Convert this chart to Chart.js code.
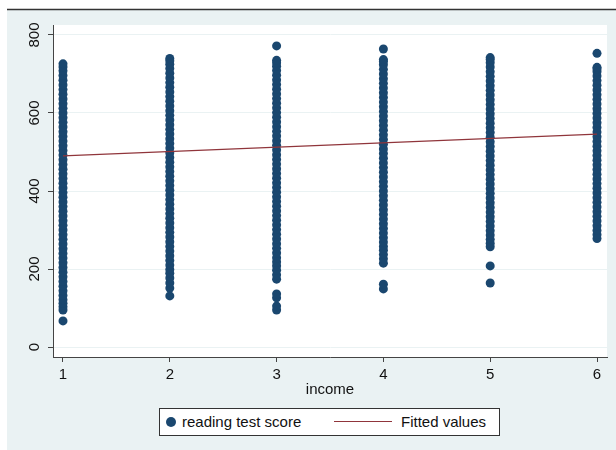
<!DOCTYPE html>
<html>
<head>
	<meta charset="utf-8">
	<title>reading test score vs income</title>
	<script src="https://cdn.jsdelivr.net/npm/chart.js@4.4.0/dist/chart.umd.min.js"></script>
	<style>
		body { margin: 0; background: #fff; }
		#wrap { position: relative; width: 616px; height: 450px; }
		#legend {
			position: absolute; left: 159px; top: 408px; width: 339px; height: 26px;
			border: 1px solid #333; background: #fff;
			font: 15px "Liberation Sans", Arial, sans-serif; color: #111;
		}
		#legend span { position: absolute; }
		.dot { left: 6px; top: 8px; width: 10px; height: 10px; border-radius: 50%; background: #1a476f; }
		.ln { left: 174px; top: 12px; width: 58px; height: 0; border-top: 1.5px solid #90353b; }
		.txt { top: 4px; line-height: 18px; }
	</style>
</head>
<body>
<div id="wrap">
	<canvas id="graph" width="616" height="450"></canvas>
	<div id="legend">
		<span class="dot"></span><span class="txt" style="left:22px">reading test score</span>
		<span class="ln"></span><span class="txt" style="left:241px">Fitted values</span>
	</div>
</div>
<script>
	// income categories and the scores
	const incomeLevels = [1, 2, 3, 4, 5, 6];
	const scores1 = [67, 95, 103, 112, 121, 132, 144, 156, 168, 180, 192, 204, 216, 228, 240, 252, 264, 276, 288, 300, 312, 324, 336, 348, 360, 372, 384, 396, 408, 420, 432, 444, 456, 468, 480, 492, 504, 516, 528, 540, 552, 564, 576, 588, 600, 612, 624, 636, 648, 660, 672, 684, 696, 708, 718, 726];
	const scores2 = [131, 151, 164, 177, 189, 199, 210, 222, 234, 246, 258, 270, 282, 294, 306, 318, 330, 342, 354, 366, 378, 390, 402, 414, 426, 438, 450, 462, 474, 486, 498, 510, 522, 534, 546, 558, 570, 582, 594, 606, 618, 630, 642, 654, 666, 678, 690, 702, 714, 725, 734, 740];
	const scores3 = [95, 105, 126, 136, 174, 185, 197, 208, 218, 229, 241, 253, 265, 277, 289, 301, 313, 325, 337, 349, 361, 373, 385, 397, 409, 421, 433, 445, 457, 469, 481, 493, 505, 517, 529, 541, 553, 565, 577, 589, 601, 613, 625, 637, 649, 661, 673, 685, 697, 709, 720, 729, 735, 772];
	const scores4 = [149, 161, 215, 226, 237, 248, 258, 269, 280, 292, 304, 316, 328, 340, 352, 364, 376, 388, 400, 412, 424, 436, 448, 460, 472, 484, 496, 508, 520, 532, 544, 556, 568, 580, 592, 604, 616, 628, 640, 652, 664, 676, 688, 700, 712, 724, 732, 737, 764];
	const scores5 = [164, 208, 257, 266, 276, 287, 298, 310, 322, 334, 346, 358, 370, 382, 394, 406, 418, 430, 442, 454, 466, 478, 490, 502, 514, 526, 538, 550, 562, 574, 586, 598, 610, 622, 634, 646, 658, 670, 682, 694, 706, 718, 729, 737, 742];
	const scores6 = [278, 288, 299, 311, 323, 335, 347, 359, 371, 383, 395, 407, 419, 431, 443, 455, 467, 479, 491, 503, 515, 527, 539, 551, 563, 575, 587, 599, 611, 623, 635, 647, 659, 671, 683, 695, 706, 713, 717, 753];

	const fitX = [1, 6];
	const fitY = [490, 546];

	const yTicks = [0, 200, 400, 600, 800];
	const xTicks = [1, 2, 3, 4, 5, 6];

	(function() {
		const columns = [scores1, scores2, scores3, scores4, scores5, scores6];
		let points = [];
		columns.forEach((col, i) => {
			col.forEach(v => points.push({ x: incomeLevels[i], y: v }));
		});
		const fitted = fitX.map((x, i) => ({ x: x, y: fitY[i] }));

		Chart.defaults.font.family = '"Liberation Sans", Arial, sans-serif';
		Chart.defaults.font.size = 15;
		Chart.defaults.color = '#111';

		const background = {
			id: 'background',
			beforeDraw(chart) {
				const c = chart.ctx;
				const a = chart.chartArea;
				c.save();
				c.fillStyle = '#fff';
				c.fillRect(0, 0, chart.width, chart.height);
				c.fillStyle = '#eaf2f3';
				c.fillRect(7, 10, chart.width - 7, chart.height - 10);
				c.strokeStyle = '#333';
				c.lineWidth = 1.5;
				c.beginPath();
				c.moveTo(7, 9.5);
				c.lineTo(chart.width, 9.5);
				c.stroke();
				c.fillStyle = '#fff';
				c.fillRect(a.left, a.top, a.right - a.left, a.bottom - a.top);
				c.restore();
			}
		};

		new Chart(document.getElementById('graph'), {
			type: 'scatter',
			data: {
				datasets: [{
					label: 'reading test score',
					data: points,
					backgroundColor: '#1a476f',
					borderWidth: 0,
					pointRadius: 4.5,
					order: 2
				}, {
					type: 'line',
					label: 'Fitted values',
					data: fitted,
					borderColor: '#90353b',
					borderWidth: 1.3,
					pointRadius: 0,
					fill: false,
					order: 1
				}]
			},
			options: {
				responsive: false,
				animation: false,
				layout: { padding: { top: 25, right: 9, bottom: 47, left: 0 } },
				plugins: {
					legend: { display: false },
					tooltip: { enabled: false }
				},
				scales: {
					x: {
						type: 'linear',
						min: 0.9064,
						max: 6.0936,
						afterBuildTicks: s => { s.ticks = xTicks.map(v => ({ value: v })); },
						afterFit: s => { s.height = 46; },
						grid: { drawOnChartArea: false, tickLength: 5, tickColor: '#444' },
						border: { color: '#444', width: 1 },
						ticks: { padding: 4, color: '#111' },
						title: { display: true, text: 'income', color: '#111', padding: { top: 4, bottom: 4 } }
					},
					y: {
						type: 'linear',
						min: -25.6,
						max: 825.6,
						afterBuildTicks: s => { s.ticks = yTicks.map(v => ({ value: v })); },
						afterFit: s => { s.width = 53; },
						grid: { color: '#eaf2f3', lineWidth: 1, tickLength: 5, tickColor: '#444' },
						border: { color: '#444', width: 1 },
						ticks: { minRotation: 90, maxRotation: 90, crossAlign: 'center', padding: 1, color: '#111' }
					}
				}
			},
			plugins: [background]
		});
	})();
</script>
</body>
</html>
